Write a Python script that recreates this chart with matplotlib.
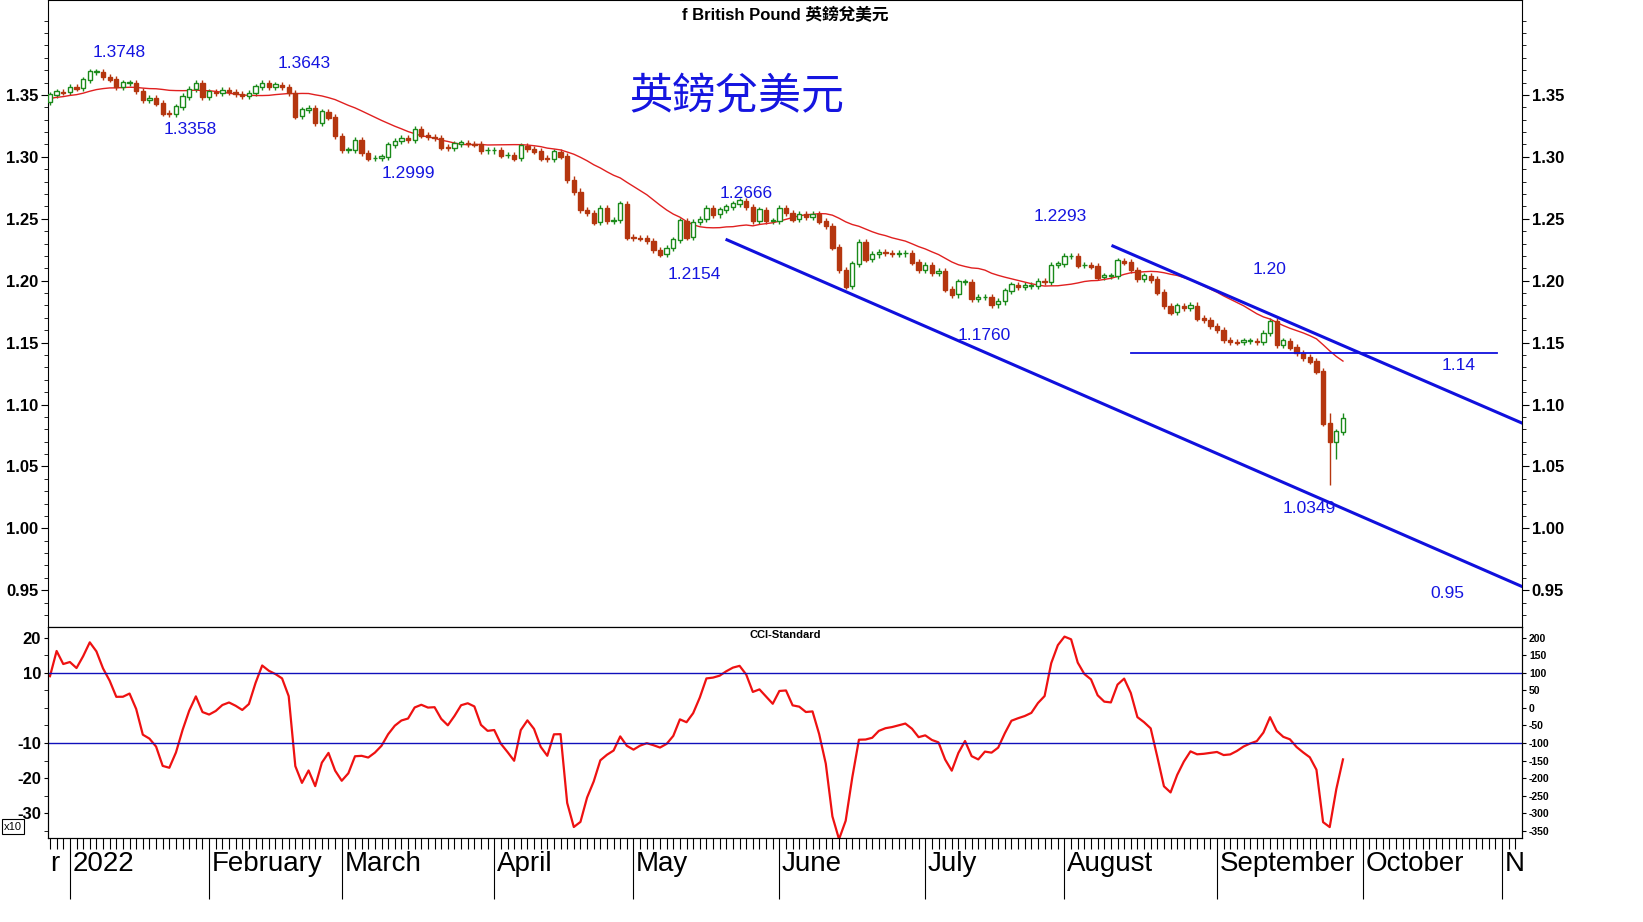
import numpy as np
import pandas as pd
import matplotlib
matplotlib.use("Agg")
import matplotlib.pyplot as plt

closes = [
 1.3460, 1.3465, 1.3487, 1.3446, 1.3500, 1.3527, 1.3522, 1.3562, 1.3554, 1.3621,
 1.3688, 1.3688, 1.3648, 1.3627, 1.3567, 1.3599, 1.3599, 1.3535, 1.3460, 1.3473,
 1.3433, 1.3352, 1.3347, 1.3406, 1.3487, 1.3546, 1.3594, 1.3487, 1.3524, 1.3519,
 1.3540, 1.3527, 1.3508, 1.3492, 1.3514, 1.3567, 1.3594, 1.3567, 1.3581, 1.3567,
 1.3519, 1.3330, 1.3379, 1.3392, 1.3276, 1.3365, 1.3320, 1.3169, 1.3056, 1.3056,
 1.3136, 1.3034, 1.2989, 1.2990, 1.3002, 1.3096,
 1.3126, 1.3150, 1.3138, 1.3225, 1.3175, 1.3162, 1.3155, 1.3077, 1.3072, 1.3106,
 1.3113, 1.3106, 1.3101, 1.3052, 1.3052, 1.3052, 1.3015, 1.3015, 1.2990, 1.3089,
 1.3064, 1.3045, 1.2990, 1.2983, 1.3041, 1.3007, 1.2817, 1.2720, 1.2572, 1.2547,
 1.2473, 1.2584, 1.2485, 1.2490, 1.2620, 1.2350, 1.2347, 1.2342, 1.2323, 1.2251,
 1.2214, 1.2262, 1.2330, 1.2485, 1.2350, 1.2473, 1.2497, 1.2584, 1.2535, 1.2572,
 1.2596, 1.2620, 1.2645, 1.2596, 1.2485, 1.2572, 1.2485, 1.2485, 1.2584, 1.2547,
 1.2497, 1.2535, 1.2515,
 1.2535, 1.2480, 1.2443, 1.2272, 1.2089, 1.1954, 1.2138, 1.2309, 1.2174, 1.2212,
 1.2231, 1.2224, 1.2217, 1.2220, 1.2220, 1.2150, 1.2089, 1.2125, 1.2065, 1.2077,
 1.1930, 1.1889, 1.1991, 1.1991, 1.1856, 1.1868, 1.1868, 1.1808, 1.1832, 1.1918,
 1.1967, 1.1949, 1.1961, 1.1961, 1.1996, 1.1991, 1.2125, 1.2138, 1.2199, 1.2199,
 1.2125, 1.2125, 1.2118, 1.2027, 1.2039, 1.2039, 1.2162, 1.2150, 1.2089, 1.2015,
 1.2039, 1.2010, 1.1906, 1.1796, 1.1746, 1.1796, 1.1782, 1.1799, 1.1697, 1.1685,
 1.1636, 1.1604, 1.1521, 1.1506, 1.1502, 1.1514, 1.1514, 1.1506, 1.1575, 1.1673,
 1.1482, 1.1514, 1.1464, 1.1416, 1.1380, 1.1350, 1.1270, 1.0850, 1.0700, 1.0780,
 1.0890,
]
wick = 0.0025
special_lows = {-3: 1.0349, -2: 1.0560}
special_highs = {-3: 1.0930, -1: 1.0930}
month_names = ["2022", "February", "March", "April", "May", "June", "July",
               "August", "September", "October", "N"]
month_starts = ["2022-01-03", "2022-02-01", "2022-03-01", "2022-04-01", "2022-05-02",
                "2022-06-01", "2022-07-01", "2022-08-01", "2022-09-01", "2022-10-03",
                "2022-11-01"]
labels = [("1.3748", 7.5, 1.3839), ("1.3358", 18.1, 1.3225), ("1.3643", 35.3, 1.3758),
          ("1.2999", 51, 1.2862), ("1.2666", 102, 1.2708), ("1.2154", 94.1, 1.2054),
          ("1.2293", 149.3, 1.2515), ("1.1760", 137.9, 1.1561), ("1.20", 181, 1.2094),
          ("1.14", 209.4, 1.1319), ("1.0349", 186.9, 1.0164), ("0.95", 207.8, 0.9477)]
lower_line = ((99.1, 1.233), (219.0, 0.953))
upper_line = ((157.3, 1.228), (219.0, 1.085))
hline = (1.142, 160.0, 215.2)

n = len(closes)
c = np.array(closes)
o = np.r_[c[0] - 0.002, c[:-1]]
h = np.maximum(o, c) + wick
l = np.minimum(o, c) - wick
for k, v in special_lows.items():
    l[k] = v
for k, v in special_highs.items():
    h[k] = v
last_idx = 192  # Sep 28 relative to Jan 3
x = np.arange(n) + last_idx - (n - 1)

ma = pd.Series(c).rolling(20, min_periods=1).mean().values
tp = pd.Series((h + l + c) / 3)
sma = tp.rolling(20, min_periods=5).mean()
md = tp.rolling(20, min_periods=5).apply(lambda s: np.mean(np.abs(s - s.mean())), raw=True)
cci = ((tp - sma) / (0.015 * md)).values / 10.0

fig = plt.figure(figsize=(16.43, 9.22), dpi=100)
ax = fig.add_axes([48/1643, (922-627)/922, (1522-48)/1643, 627/922])
ax2 = fig.add_axes([48/1643, (922-838)/922, (1522-48)/1643, 211/922], sharex=ax)

up = c >= o
green, red = "#1a8a1a", "#b5360f"
ax.vlines(x, l, h, colors=np.where(up, green, red), lw=1)
ax.bar(x[up], (c - o)[up] + 0.0004, bottom=o[up], width=0.65, facecolor="white",
       edgecolor=green, lw=1, zorder=3)
ax.bar(x[~up], (c - o)[~up] - 0.0004, bottom=o[~up], width=0.65, facecolor=red,
       edgecolor=red, lw=1, zorder=3)
ax.plot(x, ma, color="#e02020", lw=1, zorder=2)

for (p0, p1) in (lower_line, upper_line):
    ax.plot([p0[0], p1[0]], [p0[1], p1[1]], color="#1010dd", lw=2.2, zorder=4)
ax.plot([hline[1], hline[2]], [hline[0], hline[0]], color="#1010dd", lw=1.3, zorder=4)
for t, xi, yi in labels:
    ax.text(xi, yi, t, color="#1515e0", fontsize=12.5, ha="center", va="center",
            family="Liberation Sans")
ax.text(100.6, 1.3484, "英鎊兌美元", color="#1515e0", fontsize=31, ha="center",
        va="center", family="Noto Sans CJK TC")
fig.text(785/1643, 1 - 15/922, "f British Pound 英鎊兌美元", ha="center", va="center",
         fontsize=12, fontweight="bold", family=["Liberation Sans", "Noto Sans CJK TC"])

ax.set_xlim(-3.3, 219.0)
ax.set_ylim(0.9203, 1.4267)
yt = np.arange(0.95, 1.351, 0.05)
ax.set_yticks(yt)
ax.set_yticklabels([f"{v:.2f}" for v in yt], fontweight="bold", fontsize=12,
                   family="Liberation Sans")
ax.set_yticks(np.arange(0.93, 1.42, 0.01), minor=True)
ax.tick_params(axis="y", which="both", left=True, right=True, labelleft=True,
               labelright=True, direction="out", pad=2)
ax.tick_params(axis="y", which="major", length=5)
ax.tick_params(axis="y", which="minor", length=3)
ax.tick_params(axis="x", which="both", bottom=False, labelbottom=False)

# lower panel
ax2.plot(x, cci, color="#ee1111", lw=1.6)
ax2.axhline(10, color="#1010bb", lw=1)
ax2.axhline(-10, color="#1010bb", lw=1)
ax2.set_ylim(-37.1, 23.1)
ax2.set_yticks([20, 10, -10, -20, -30])
ax2.set_yticklabels(["20", "10", "-10", "-20", "-30"], fontweight="bold", fontsize=12,
                    family="Liberation Sans")
ax2.set_yticks(np.arange(-35, 21, 5), minor=True)
ax2.tick_params(axis="y", which="both", direction="out", length=3, pad=2)
ax2.text(0.5, 0.985, "CCI-Standard", transform=ax2.transAxes, ha="center", va="top",
         fontsize=8, fontweight="bold", family="Liberation Sans")
ax2.text(-0.03, 0.04, "x10", transform=ax2.transAxes, fontsize=8, family="Liberation Sans",
         bbox=dict(facecolor="white", edgecolor="black", pad=1.5, lw=0.8))
axr = ax2.twinx()
axr.set_ylim(-371, 231)
rt = np.arange(-350, 201, 50)
axr.set_yticks(rt)
axr.set_yticklabels([str(v) for v in rt], fontsize=7.5, fontweight="bold",
                    family="Liberation Sans")
axr.tick_params(axis="y", length=3, pad=2)

# date axis
jan3 = np.datetime64("2022-01-03")
mpos = [int(np.busday_count(jan3, np.datetime64(d))) for d in month_starts]
ax2.set_xticks(np.arange(-3, 219), minor=True)
ax2.set_xticks(mpos)
ax2.set_xticklabels([""] * len(mpos))
ax2.tick_params(axis="x", which="minor", length=8, direction="out", width=0.8)
ax2.tick_params(axis="x", which="major", length=44, direction="out", width=0.8)
for p, name in zip(mpos, month_names):
    ax2.text(p + 0.4, -0.06, name, transform=ax2.get_xaxis_transform(), ha="left",
             va="top", fontsize=20, family="Liberation Sans")
ax2.text(-3.0, -0.06, "r", transform=ax2.get_xaxis_transform(), ha="left", va="top",
         fontsize=20, family="Liberation Sans", clip_on=False)
for a in (ax, ax2, axr):
    for s in a.spines.values():
        s.set_linewidth(0.8)
fig.savefig("out.png", dpi=100)
